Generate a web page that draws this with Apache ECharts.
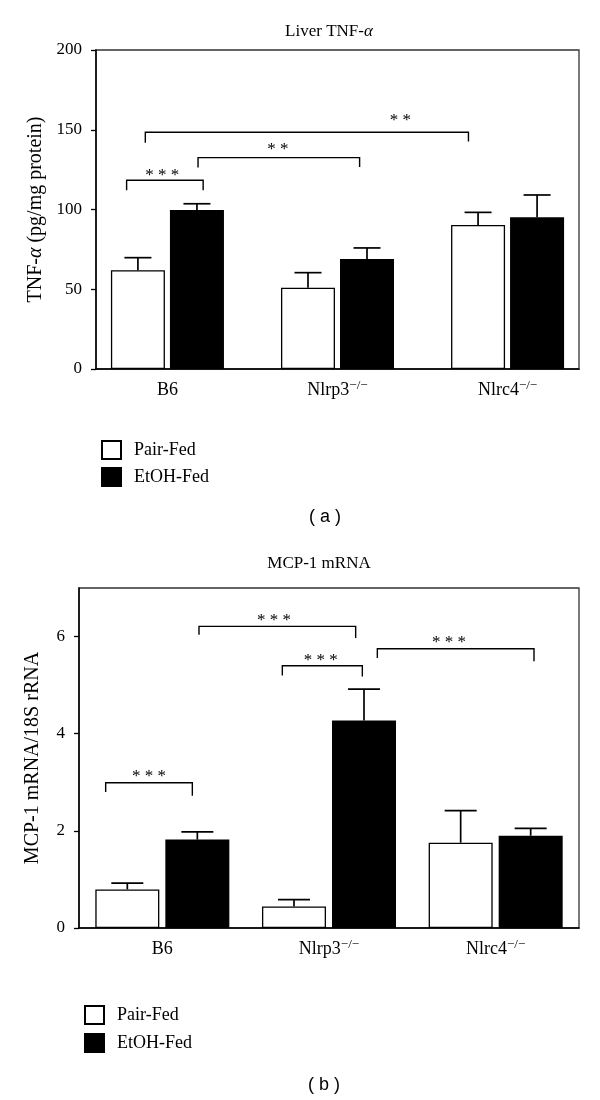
<!DOCTYPE html>
<html><head><meta charset="utf-8">
<script src="https://cdn.jsdelivr.net/npm/echarts@6/dist/echarts.min.js"></script>
<style>html,body{margin:0;padding:0;background:#fff}#c{width:600px;height:1100px}</style>
</head><body><div id="c"></div>
<script>
// ---------- data ----------
const categories = ['B6', 'Nlrp3', 'Nlrc4'];
const catSup = ['', '−/−', '−/−'];
const seriesNames = ['Pair-Fed', 'EtOH-Fed'];

// panel (a): Liver TNF-α (pg/mg protein)
const tnfPair = [61.9, 51.0, 90.3];
const tnfPairErr = [7.9, 9.4, 7.9];
const tnfEtoh = [99.7, 69.0, 95.1];
const tnfEtohErr = [3.9, 6.9, 14.0];
const tnfTicks = [0, 50, 100, 150, 200];
// brackets: [xLeft, xRight, yTop, yLeftEnd, yRightEnd, starX, starY]
const tnfBrackets = [
  [-0.24, 0.21, 118.3, 112.0, 112.0, -0.03, 123.7],
  [0.18, 1.13, 132.5, 126.3, 126.6, 0.65, 139.8],
  [-0.13, 1.77, 148.4, 141.8, 142.6, 1.37, 158.2]
];
const tnfStars = ['* * *', '* *', '* *'];

// panel (b): MCP-1 mRNA / 18S rRNA
const mcpPair = [0.795, 0.445, 1.757];
const mcpPairErr = [0.13, 0.14, 0.66];
const mcpEtoh = [1.82, 4.27, 1.90];
const mcpEtohErr = [0.16, 0.65, 0.15];
const mcpTicks = [0, 2, 4, 6];
const mcpBrackets = [
  [-0.34, 0.18, 2.99, 2.80, 2.725, -0.08, 3.21],
  [0.22, 1.16, 6.21, 6.04, 5.97, 0.67, 6.42],
  [0.72, 1.20, 5.40, 5.20, 5.18, 0.95, 5.58],
  [1.29, 2.23, 5.75, 5.56, 5.49, 1.72, 5.96]
];
const mcpStars = ['* * *', '* * *', '* * *', '* * *'];

// ---------- styling ----------
const SERIF = '"Liberation Serif", "Times New Roman", serif';
const SANS = '"Liberation Sans", Arial, sans-serif';
const BAR_A = 54, GAP_A = 9.3;
const BAR_B = 64, GAP_B = 9.4;

const chart = echarts.init(document.getElementById('c'), null, {renderer: 'canvas'});

function catLabel(v) {
  const i = Math.round(v);
  return '{n|' + categories[i] + '}' + (catSup[i] ? '{s|' + catSup[i] + '}' : '');
}
const catRich = {
  n: {fontFamily: SERIF, fontSize: 18, color: '#000', lineHeight: 22},
  s: {fontFamily: SERIF, fontSize: 13, color: '#000', lineHeight: 9, verticalAlign: 'top'}
};

function xAxisCfg(gi, min, max) {
  return {
    type: 'value', gridIndex: gi, min: min, max: max,
    axisLine: {show: true, onZero: false, lineStyle: {color: '#000', width: 1.5}},
    axisTick: {show: false},
    splitLine: {show: false},
    axisLabel: {customValues: [0, 1, 2], formatter: catLabel, rich: catRich, margin: 10, color: '#000'}
  };
}
function yAxisCfg(gi, max, ticks, name, gap) {
  return {
    type: 'value', gridIndex: gi, min: 0, max: max,
    name: name, nameLocation: 'middle', nameGap: gap,
    nameTextStyle: {fontFamily: SERIF, fontSize: 20, color: '#000',
      rich: {i: {fontFamily: SERIF, fontSize: 20, fontStyle: 'italic', color: '#000'}}},
    axisLine: {show: true, onZero: false, lineStyle: {color: '#000', width: 1.5}},
    axisTick: {show: true, inside: false, length: 5, customValues: ticks, lineStyle: {color: '#000', width: 1.3}},
    axisLabel: {customValues: ticks, fontFamily: SERIF, fontSize: 17, color: '#000', margin: 14},
    splitLine: {show: false}
  };
}
function barSeries(gi, name, vals, color, bw, gap) {
  return {
    type: 'bar', name: name, xAxisIndex: gi, yAxisIndex: gi,
    data: vals.map((v, i) => [i, v]),
    barWidth: bw, barGap: gap + '%',
    itemStyle: {color: color, borderColor: '#000', borderWidth: 1.3},
    emphasis: {disabled: true}, z: 2
  };
}
function errSeries(gi, vals, errs, side, bw, gap) {
  return {
    type: 'custom', xAxisIndex: gi, yAxisIndex: gi, z: 3, silent: true,
    data: vals.map((v, i) => [i, v, v + errs[i]]),
    renderItem: function (p, api) {
      const base = api.coord([api.value(0), api.value(1)]);
      const top = api.coord([api.value(0), api.value(2)]);
      const cx = base[0] + side * bw * (1 + gap / 100) / 2;
      const half = bw / 4;
      const st = {stroke: '#000', lineWidth: 1.7};
      return {type: 'group', children: [
        {type: 'line', shape: {x1: cx, y1: base[1], x2: cx, y2: top[1]}, style: st},
        {type: 'line', shape: {x1: cx - half, y1: top[1], x2: cx + half, y2: top[1]}, style: st}
      ]};
    }
  };
}
function bracketSeries(gi, rows, stars) {
  return {
    type: 'custom', xAxisIndex: gi, yAxisIndex: gi, z: 4, silent: true,
    data: rows,
    renderItem: function (p, api) {
      const a = api.coord([api.value(0), api.value(3)]);
      const b = api.coord([api.value(0), api.value(2)]);
      const c = api.coord([api.value(1), api.value(2)]);
      const d = api.coord([api.value(1), api.value(4)]);
      const s = api.coord([api.value(5), api.value(6)]);
      return {type: 'group', children: [
        {type: 'polyline', shape: {points: [a, b, c, d]}, style: {stroke: '#000', fill: null, lineWidth: 1.4}},
        {type: 'text', x: s[0], y: s[1] + 4, style: {text: stars[p.dataIndex], fontFamily: SERIF, fontSize: 17,
          fill: '#000', align: 'center', verticalAlign: 'middle'}}
      ]};
    }
  };
}
function legendCfg(left, top, gap) {
  return {
    left: left, top: top, orient: 'vertical', icon: 'rect',
    itemWidth: 19, itemHeight: 18, itemGap: gap, selectedMode: false,
    data: seriesNames,
    textStyle: {fontFamily: SERIF, fontSize: 18, color: '#000', padding: [0, 0, 0, 8]}
  };
}
function gText(x, y, text, font, size, rich) {
  return {type: 'text', x: x, y: y, silent: true,
    style: {text: text, fontFamily: font, fontSize: size, fill: '#000', align: 'center', verticalAlign: 'middle', rich: rich}};
}

const option = {
  backgroundColor: '#fff',
  animation: false,
  grid: [
    {left: 96, top: 50, width: 483, height: 319, show: true, borderColor: '#333', borderWidth: 1.3, backgroundColor: 'transparent'},
    {left: 79, top: 588, width: 500, height: 340, show: true, borderColor: '#333', borderWidth: 1.3, backgroundColor: 'transparent'}
  ],
  xAxis: [xAxisCfg(0, -0.42, 2.42), xAxisCfg(1, -0.5, 2.5)],
  yAxis: [
    yAxisCfg(0, 200, tnfTicks, 'TNF-{i|α} (pg/mg protein)', 47),
    yAxisCfg(1, 7, mcpTicks, 'MCP-1 mRNA/18S rRNA', 36)
  ],
  legend: [legendCfg(96, 435, 7), legendCfg(79, 1000, 8)],
  series: [
    barSeries(0, seriesNames[0], tnfPair, '#fff', BAR_A, GAP_A),
    barSeries(0, seriesNames[1], tnfEtoh, '#000', BAR_A, GAP_A),
    errSeries(0, tnfPair, tnfPairErr, -1, BAR_A, GAP_A),
    errSeries(0, tnfEtoh, tnfEtohErr, 1, BAR_A, GAP_A),
    bracketSeries(0, tnfBrackets, tnfStars),
    barSeries(1, seriesNames[0], mcpPair, '#fff', BAR_B, GAP_B),
    barSeries(1, seriesNames[1], mcpEtoh, '#000', BAR_B, GAP_B),
    errSeries(1, mcpPair, mcpPairErr, -1, BAR_B, GAP_B),
    errSeries(1, mcpEtoh, mcpEtohErr, 1, BAR_B, GAP_B),
    bracketSeries(1, mcpBrackets, mcpStars)
  ],
  graphic: [
    gText(329, 32, 'Liver TNF-{i|α}', SERIF, 17, {i: {fontFamily: SERIF, fontSize: 17, fontStyle: 'italic'}}),
    gText(319, 564, 'MCP-1 mRNA', SERIF, 17),
    gText(325, 517, '( a )', SANS, 18),
    gText(324, 1085, '( b )', SANS, 18)
  ]
};
chart.setOption(option);
</script>
</body></html>
